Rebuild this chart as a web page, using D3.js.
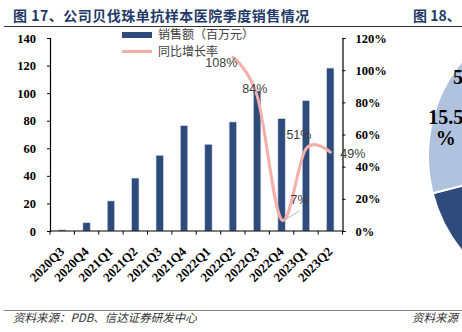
<!DOCTYPE html>
<html><head><meta charset="utf-8">
<script src="https://cdn.jsdelivr.net/npm/d3@7"></script>
<style>html,body{margin:0;padding:0;background:#fff;}svg{display:block;}</style>
</head><body>
<svg id="c" width="462" height="332"></svg>
<script>
// ---- data ----
const quarters = ["2020Q3","2020Q4","2021Q1","2021Q2","2021Q3","2021Q4","2022Q1","2022Q2","2022Q3","2022Q4","2023Q1","2023Q2"];
const sales = [0.8, 6.0, 21.8, 38.4, 54.9, 76.4, 62.9, 79.1, 101.6, 81.5, 94.5, 118.2];
const growth = [null, null, null, null, null, null, null, 1.08, 0.84, 0.07, 0.51, 0.49];
const leftTicks = [0, 20, 40, 60, 80, 100, 120, 140];
const rightTicks = [0, 0.2, 0.4, 0.6, 0.8, 1.0, 1.2];
const seriesNames = ["销售额（百万元）", "同比增长率"];
const titleText = "图 17、公司贝伐珠单抗样本医院季度销售情况";
const title2Text = "图 18、";
const sourceText = "资料来源：PDB、信达证券研发中心";
const source2Text = "资料来源";
// neighbouring (cropped) pie of figure 18
const pieValues = [55.5, 15.5, 15.5, 13.5];
const pieLabelsVisible = ["", "", "15.5%", ""];

const svg = d3.select("#c");
const navy = "#2F4B7C", pink = "#F5AFAB", textGray = "#404040";
const serif = "'Liberation Serif','Times New Roman',serif";
const sans = "'Liberation Sans',Arial,sans-serif";
const cjk = "'Noto Sans CJK SC',sans-serif";

// ---- pie (figure 18, cropped at right) ----
const pieG = svg.append("g").attr("transform", "translate(578,156)");
const pie = d3.pie().sort(null).value(d => d);
const arcs = pie(pieValues);
const arc = d3.arc().innerRadius(0).outerRadius(150);
const pieColors = ["#FFFFFF", navy, "#B0C3DE", "#D6E0EE"];
pieG.selectAll("path").data(arcs).join("path")
  .attr("d", arc).attr("fill", (d, i) => pieColors[i])
  .attr("stroke", "#fff").attr("stroke-width", 2);
const labelArc = d3.arc().innerRadius(136).outerRadius(136);
arcs.forEach((a, i) => {
  if (!pieLabelsVisible[i]) return;
  const [lx, ly] = labelArc.centroid(a);
  const t = pieG.append("text").attr("text-anchor", "middle")
    .attr("font-family", serif).attr("font-weight", "bold").attr("font-size", 20).attr("fill", "#000");
  const txt = pieLabelsVisible[i];
  t.append("tspan").attr("x", lx).attr("y", ly).text(txt.slice(0, -1));
  t.append("tspan").attr("x", lx).attr("y", ly + 21).text("%");
});
svg.append("text").attr("x", 453).attr("y", 84).attr("font-family", serif)
  .attr("font-weight", "bold").attr("font-size", 20).attr("fill", "#000").text("5");

// ---- titles ----
svg.append("text").attr("x", 13).attr("y", 21).attr("font-family", cjk).attr("font-weight", "bold")
  .attr("font-size", 14).attr("letter-spacing", 0.5).attr("fill", "#1F3A68").text(titleText);
svg.append("text").attr("x", 413).attr("y", 21).attr("font-family", cjk).attr("font-weight", "bold")
  .attr("font-size", 14).attr("fill", "#1F3A68").text(title2Text);
svg.append("line").attr("x1", 4).attr("x2", 462).attr("y1", 26.5).attr("y2", 26.5)
  .attr("stroke", "#333").attr("stroke-width", 1);

// ---- scales ----
const x = d3.scaleBand().domain(quarters).range([50, 342.5]).paddingInner(0.7).paddingOuter(0.35);
const step = x.step();
const yL = d3.scaleLinear().domain([0, 140]).range([231, 38]);
const yR = d3.scaleLinear().domain([0, 1.2]).range([231, 38]);

// ---- bars ----
svg.append("g").selectAll("rect").data(quarters).join("rect")
  .attr("x", d => x(d)).attr("width", x.bandwidth())
  .attr("y", (d, i) => yL(sales[i])).attr("height", (d, i) => yL(0) - yL(sales[i]))
  .attr("fill", navy).attr("stroke", "#C9D5E8").attr("stroke-width", 0.6);

// ---- axes ----
const axL = svg.append("g").attr("transform", "translate(50,0)")
  .call(d3.axisLeft(yL).tickValues(leftTicks).tickSize(3).tickPadding(11).tickFormat(d3.format("d")));
const axR = svg.append("g").attr("transform", "translate(342.5,0)")
  .call(d3.axisRight(yR).tickValues(rightTicks).tickSize(3).tickPadding(10).tickFormat(d3.format(".0%")));
[axL, axR].forEach(a => {
  a.select(".domain").attr("stroke", "#000").attr("stroke-width", 1.2);
  a.selectAll(".tick line").attr("stroke", "#000");
  a.selectAll("text").attr("font-family", serif).attr("font-weight", "bold")
    .attr("font-size", 12.5).attr("fill", "#000");
});
const axB = svg.append("g").attr("transform", "translate(0,231)");
axB.append("line").attr("x1", 50).attr("x2", 342.5).attr("stroke", "#000").attr("stroke-width", 1.2);
axB.selectAll("line.t").data(d3.range(quarters.length + 1)).join("line").attr("class", "t")
  .attr("x1", i => 50 + i * step).attr("x2", i => 50 + i * step).attr("y1", 0).attr("y2", 3.5)
  .attr("stroke", "#000");
axB.selectAll("text").data(quarters).join("text")
  .attr("transform", d => `translate(${x(d) + x.bandwidth() / 2 + 3},21.5) rotate(-45)`)
  .attr("text-anchor", "end").attr("font-family", serif).attr("font-weight", "bold")
  .attr("font-size", 13).attr("fill", "#000").text(d => d);

// ---- growth line ----
const pts = quarters.map((q, i) => ({ q, v: growth[i] })).filter(d => d.v != null);
const line = d3.line().x(d => x(d.q) + x.bandwidth() / 2).y(d => yR(d.v))
  .curve(d3.curveCatmullRom.alpha(0));
svg.append("path").datum(pts).attr("d", line).attr("fill", "none")
  .attr("stroke", pink).attr("stroke-width", 3).attr("stroke-linecap", "round");

// ---- data labels ----
const labOff = { "2022Q2": [-11.5, 5], "2022Q3": [-2.4, -7.6], "2022Q4": [18, -20], "2023Q1": [-7, -14], "2023Q2": [22.5, 1] };
pts.forEach(d => {
  const px = x(d.q) + x.bandwidth() / 2, py = yR(d.v);
  const o = labOff[d.q];
  if (d.q === "2022Q4") {
    svg.append("line").attr("x1", px + 2).attr("y1", py + 1).attr("x2", px + 18).attr("y2", py - 9)
      .attr("stroke", "#A6A6A6").attr("stroke-width", 0.8);
  }
  svg.append("text").attr("x", px + o[0]).attr("y", py + o[1]).attr("dy", "0.35em")
    .attr("text-anchor", "middle").attr("font-family", sans).attr("font-size", 12.5)
    .attr("fill", textGray).text(d3.format(".0%")(d.v));
});

// ---- legend ----
const lg = svg.append("g");
lg.append("rect").attr("x", 122).attr("y", 32).attr("width", 30).attr("height", 6).attr("fill", navy);
lg.append("line").attr("x1", 122).attr("x2", 152).attr("y1", 51.5).attr("y2", 51.5)
  .attr("stroke", pink).attr("stroke-width", 3);
lg.selectAll("text").data(seriesNames).join("text")
  .attr("x", 158).attr("y", (d, i) => 35 + i * 17).attr("dy", "0.35em")
  .attr("font-family", cjk).attr("font-size", 12).attr("fill", textGray).text(d => d);

// ---- footer ----
svg.append("line").attr("x1", 4).attr("x2", 462).attr("y1", 310.5).attr("y2", 310.5)
  .attr("stroke", "#808080").attr("stroke-width", 1);
svg.append("text").attr("x", 13).attr("y", 322).attr("font-family", cjk).attr("font-style", "italic")
  .attr("font-size", 11.5).attr("fill", "#333").text(sourceText);
svg.append("text").attr("x", 412).attr("y", 322).attr("font-family", cjk).attr("font-style", "italic")
  .attr("font-size", 11.5).attr("fill", "#333").text(source2Text);
</script>
</body></html>
